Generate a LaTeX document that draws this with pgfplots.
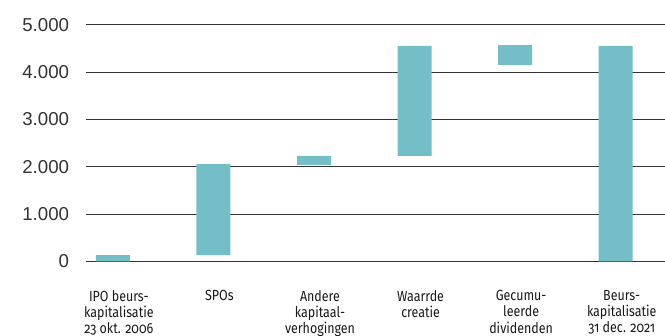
\documentclass[border=0pt]{standalone}
\usepackage{fontspec}
\setmainfont{Liberation Sans}
\newfontfamily\catfont[Numbers=OldStyle,FakeStretch=0.85]{Fira Sans}
\usepackage{pgfplots}
\pgfplotsset{compat=1.18}
\definecolor{barc}{RGB}{116,190,200}
\begin{document}
\begin{tikzpicture}[x=1pt,y=1pt]
\begin{axis}[
  scale only axis,
  width=434.5pt, height=177.5pt,
  xmin=-0.27, xmax=5.49,
  ymin=0, ymax=5000,
  axis line style={draw=none},
  tick style={draw=none},
  ymajorgrids,
  grid style={black!80, line width=0.7pt},
  ytick={0,1000,2000,3000,4000,5000},
  /pgf/number format/assume math mode=true,
  /pgf/number format/.cd, 1000 sep={.}, /pgfplots/.cd,
  yticklabel style={font=\fontsize{14}{16}\selectfont, text=black!80, anchor=east, inner sep=0pt, xshift=-12.3pt},
  xtick={0,1,2,3,4,5},
  xticklabels={{IPO beurs-\\kapitalisatie\\23 okt. 2006},{SPOs},{Andere\\kapitaal-\\verhogingen},{Waarrde\\creatie},{Gecumu-\\leerde\\dividenden},{Beurs-\\kapitalisatie\\31 dec. 2021}},
  xticklabel style={font=\catfont\fontsize{11}{12.2}\selectfont, text=black!90, align=center, anchor=north, inner sep=0pt, yshift=-21.5pt, xshift=4.5pt},
  ybar stacked,
  bar width=25.5pt,
]
\addplot[draw=none, fill=none] coordinates {(0,0) (1,130) (2,2040) (3,2230) (4,4150) (5,0)};
\addplot[draw=none, fill=barc] coordinates {(0,130) (1,1925) (2,190) (3,2320) (4,420) (5,4550)};
\end{axis}
\pgfresetboundingbox
\useasboundingbox (-64.3pt,-56pt) rectangle (434.5pt,196pt);
\end{tikzpicture}
\end{document}
